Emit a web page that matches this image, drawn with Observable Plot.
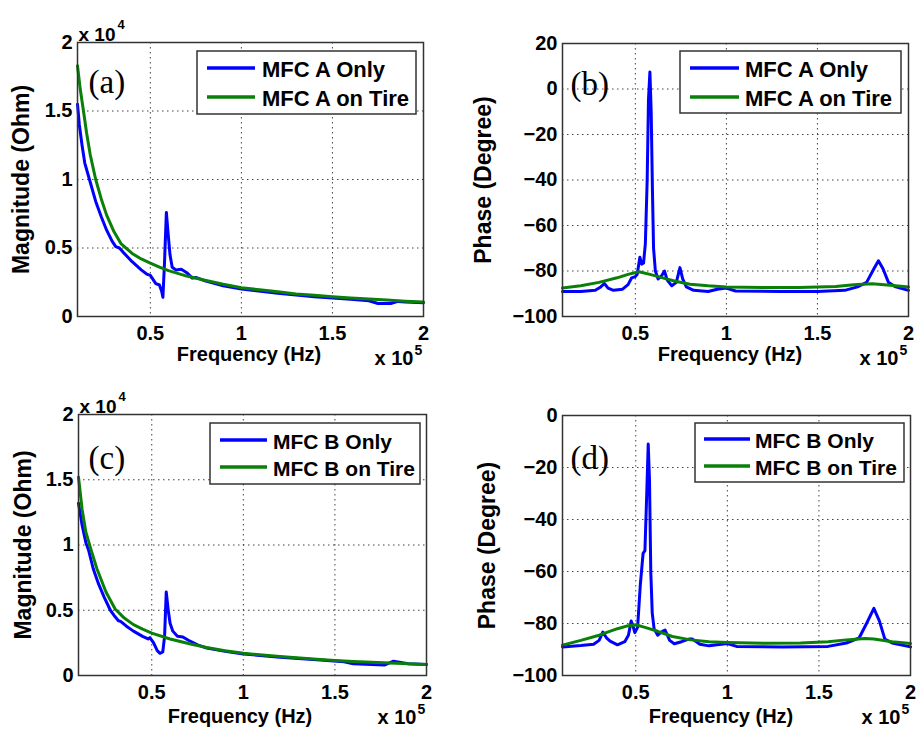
<!DOCTYPE html>
<html><head><meta charset="utf-8">
<script src="https://cdn.jsdelivr.net/npm/d3@7"></script>
<script src="https://cdn.jsdelivr.net/npm/@observablehq/plot@0.6"></script>
<style>
body{margin:0;background:#fff}
#chart{position:relative;width:917px;height:738px;background:#fff;overflow:hidden}
#chart svg{position:absolute;overflow:visible}
</style></head><body><div id="chart"></div>
<script>
// ---------- DATA (frequency in x10^5 Hz, magnitude in x10^4 Ohm, phase in degrees) ----------
const freqTicks = [0.5, 1, 1.5, 2];
const magTicks = [0, 0.5, 1, 1.5, 2];
const phaseTicksB = [-100, -80, -60, -40, -20, 0, 20];
const phaseTicksD = [-100, -80, -60, -40, -20, 0];

const seriesA = ["MFC A Only", "MFC A on Tire"];
const seriesB = ["MFC B Only", "MFC B on Tire"];
const panelTags = ["(a)", "(b)", "(c)", "(d)"];
const xLabel = "Frequency (Hz)";
const magLabel = "Magnitude (Ohm)";
const phaseLabel = "Phase (Degree)";

// (a) magnitude, MFC A
const fMagAOnly = [0.10,0.11,0.125,0.14,0.17,0.20,0.23,0.26,0.29,0.31,0.33,0.35,0.40,0.45,0.48,0.50,0.53,0.55,0.563,0.569,0.578,0.588,0.598,0.608,0.62,0.64,0.67,0.70,0.73,0.75,0.80,0.90,1.00,1.20,1.40,1.60,1.70,1.75,1.82,1.86,1.90,2.00];
const magAOnly  = [1.55,1.40,1.25,1.12,0.98,0.84,0.73,0.63,0.55,0.51,0.50,0.47,0.40,0.34,0.31,0.30,0.24,0.23,0.18,0.14,0.40,0.76,0.60,0.45,0.36,0.34,0.345,0.32,0.28,0.285,0.26,0.225,0.20,0.17,0.145,0.125,0.115,0.095,0.095,0.11,0.105,0.10];
const fMagATire = [0.10,0.115,0.135,0.15,0.17,0.20,0.23,0.26,0.30,0.34,0.40,0.45,0.50,0.55,0.60,0.70,0.80,0.90,1.00,1.10,1.20,1.30,1.40,1.50,1.60,1.70,1.80,1.90,2.00];
const magATire  = [1.83,1.66,1.48,1.34,1.18,1.00,0.86,0.74,0.62,0.53,0.46,0.42,0.39,0.36,0.335,0.295,0.265,0.235,0.21,0.195,0.18,0.165,0.155,0.145,0.135,0.127,0.12,0.112,0.105];

// (b) phase, MFC A
const fPhAOnly = [0.10,0.20,0.28,0.31,0.33,0.35,0.38,0.43,0.46,0.48,0.50,0.51,0.525,0.535,0.545,0.555,0.565,0.572,0.58,0.587,0.594,0.60,0.61,0.625,0.645,0.66,0.675,0.70,0.725,0.745,0.76,0.78,0.82,0.90,0.95,1.00,1.05,1.30,1.50,1.65,1.72,1.77,1.81,1.835,1.86,1.89,1.93,2.00];
const phAOnly  = [-89,-89,-88.5,-87,-85.5,-87.5,-88.5,-88,-86,-83,-82.5,-81.5,-74,-77,-76.5,-68,-40,-5,7.5,-10,-45,-70,-80,-83.5,-82,-80,-84,-86.5,-85,-78.5,-83.5,-87,-88.5,-89,-88,-87.5,-88.8,-89,-89,-88.5,-87,-85,-79,-75.5,-79,-85,-87,-88.5];
const fPhATire = [0.10,0.20,0.30,0.40,0.46,0.52,0.58,0.65,0.72,0.80,0.90,1.00,1.20,1.40,1.60,1.70,1.80,1.90,2.00];
const phATire  = [-87.5,-86.5,-85,-83,-81.5,-80.3,-81.5,-83,-84.5,-85.8,-86.5,-87,-87.3,-87.3,-86.8,-86,-85.6,-86.3,-87];

// (c) magnitude, MFC B
const fMagBOnly = [0.10,0.12,0.14,0.155,0.18,0.21,0.24,0.274,0.30,0.318,0.33,0.36,0.40,0.45,0.48,0.49,0.51,0.53,0.545,0.56,0.57,0.579,0.59,0.60,0.615,0.64,0.67,0.70,0.75,0.80,0.90,1.00,1.20,1.40,1.55,1.60,1.70,1.77,1.82,1.86,1.90,2.00];
const magBOnly  = [1.32,1.15,1.02,0.96,0.82,0.70,0.60,0.50,0.45,0.42,0.415,0.38,0.34,0.30,0.28,0.29,0.25,0.19,0.17,0.18,0.30,0.64,0.50,0.40,0.34,0.30,0.295,0.27,0.235,0.21,0.185,0.165,0.14,0.12,0.105,0.09,0.085,0.08,0.11,0.10,0.09,0.085];
const fMagBTire = [0.10,0.12,0.14,0.165,0.20,0.25,0.30,0.35,0.40,0.45,0.50,0.60,0.70,0.80,0.90,1.00,1.20,1.40,1.50,1.60,1.80,2.00];
const magBTire  = [1.52,1.27,1.10,0.98,0.82,0.64,0.51,0.44,0.39,0.355,0.325,0.28,0.245,0.215,0.19,0.17,0.145,0.125,0.115,0.108,0.095,0.085];

// (d) phase, MFC B
const fPhBOnly = [0.10,0.20,0.27,0.30,0.32,0.34,0.36,0.40,0.44,0.46,0.475,0.485,0.495,0.51,0.525,0.54,0.55,0.56,0.568,0.575,0.582,0.59,0.60,0.62,0.645,0.66,0.685,0.71,0.75,0.79,0.81,0.85,0.90,1.00,1.05,1.30,1.55,1.65,1.72,1.76,1.80,1.83,1.86,1.90,2.00];
const phBOnly  = [-89,-88.5,-88,-86.5,-83.3,-85.5,-86.8,-88.2,-87,-84.5,-79,-81,-83.5,-81.5,-65,-53,-52,-30,-11,-25,-60,-76,-82,-84.5,-83,-82.5,-86.5,-87.8,-87,-86,-86,-88,-88.6,-87.7,-88.8,-89,-88.8,-87.5,-85.5,-80,-74.2,-79,-86,-87.5,-89];
const fPhBTire = [0.10,0.20,0.30,0.40,0.45,0.50,0.55,0.62,0.70,0.80,0.90,1.00,1.20,1.40,1.55,1.65,1.75,1.80,1.90,2.00];
const phBTire  = [-88.3,-86.5,-84.5,-82,-81,-80.5,-81.5,-83,-85,-86.3,-87,-87.3,-87.6,-87.5,-87,-86.3,-85.8,-86,-87,-87.7];

// ---------- STYLE ----------
const FONT = "'Liberation Sans', Arial, Helvetica, sans-serif";
const SERIF = "'Liberation Serif', 'Times New Roman', serif";
const BLUE = "#0000ff", GREEN = "#0a800a";
const fmtNum = d => (d < 0 ? "\u2212" + Math.abs(d) : String(d));

const rows = (xs, ys) => xs.map((x, i) => ({x, y: ys[i]}));

const panels = [
  {tag: panelTags[0], pos: [0, 0, 458, 369], m: {l: 77, r: 35, t: 42, b: 53},
   yDomain: [0, 2], yTicks: magTicks, yLabel: magLabel, names: seriesA, expY: true,
   blue: rows(fMagAOnly, magAOnly), green: rows(fMagATire, magATire),
   tagDx: 11, tagDy: 27, xlDx: -1.5, xlDy: 44, ylDx: -56,
   lg: {w: 219, h: 63, dr: 7, dt: 9, l0: 10, l1: 58, y1: 17, y2: 46, tx: 65, fs: 22}},
  {tag: panelTags[1], pos: [458, 0, 459, 369], m: {l: 104, r: 9, t: 43, b: 53},
   yDomain: [-100, 20], yTicks: phaseTicksB, yLabel: phaseLabel, names: seriesA, expY: false,
   blue: rows(fPhAOnly, phAOnly), green: rows(fPhATire, phATire),
   tagDx: 8, tagDy: 28, xlDx: -5.5, xlDy: 44, ylDx: -79,
   lg: {w: 221, h: 62, dr: 7, dt: 8, l0: 10, l1: 59, y1: 17, y2: 46, tx: 65, fs: 22}},
  {tag: panelTags[2], pos: [0, 369, 458, 369], m: {l: 78, r: 32, t: 45, b: 63},
   yDomain: [0, 2], yTicks: magTicks, yLabel: magLabel, names: seriesB, expY: true,
   blue: rows(fMagBOnly, magBOnly), green: rows(fMagBTire, magBTire),
   tagDx: 10, tagDy: 31, xlDx: -12.5, xlDy: 47, ylDx: -55,
   lg: {w: 210, h: 61, dr: 6, dt: 9, l0: 10, l1: 57, y1: 17, y2: 44, tx: 63, fs: 21}},
  {tag: panelTags[3], pos: [458, 369, 459, 369], m: {l: 104, r: 7, t: 46, b: 63},
   yDomain: [-100, 0], yTicks: phaseTicksD, yLabel: phaseLabel, names: seriesB, expY: false,
   blue: rows(fPhBOnly, phBOnly), green: rows(fPhBTire, phBTire),
   tagDx: 8, tagDy: 30, xlDx: -15.5, xlDy: 47, ylDx: -75,
   lg: {w: 209, h: 59, dr: 6, dt: 8, l0: 9, l1: 55, y1: 16, y2: 43, tx: 60, fs: 21}}
];

const chart = document.getElementById("chart");
const gridStyle = {stroke: "#222", strokeOpacity: 0.85, strokeWidth: 1, strokeDasharray: "1.5,3.5"};

for (const p of panels) {
  const [left, top, w, h] = p.pos;
  const marks = [
    Plot.gridX(freqTicks, gridStyle),
    Plot.gridY(p.yTicks, gridStyle),
    Plot.line(p.blue, {x: "x", y: "y", stroke: BLUE, strokeWidth: 3}),
    Plot.line(p.green, {x: "x", y: "y", stroke: GREEN, strokeWidth: 3}),
    Plot.frame({stroke: "#333", strokeWidth: 1.5}),
    Plot.axisX(freqTicks, {tickSize: 0, tickPadding: 9, tickFormat: fmtNum, label: null}),
    Plot.axisY(p.yTicks, {tickSize: 0, tickPadding: 5, tickFormat: fmtNum, label: null}),
    Plot.text([xLabel], {frameAnchor: "bottom", textAnchor: "middle", dx: p.xlDx, dy: p.xlDy, fontSize: 20}),
    Plot.text([p.yLabel], {frameAnchor: "left", textAnchor: "middle", rotate: -90, dx: p.ylDx, fontSize: 23}),
    Plot.text([p.tag], {frameAnchor: "top-left", textAnchor: "start", dx: p.tagDx, dy: p.tagDy,
      fontSize: 33, fontFamily: SERIF, fontWeight: "normal"}),
    Plot.text(["x 10"], {frameAnchor: "bottom-right", textAnchor: "end", dx: -10, dy: 48.6, fontSize: 20}),
    Plot.text(["5"], {frameAnchor: "bottom-right", textAnchor: "start", dx: -9, dy: 38.5, fontSize: 14})
  ];
  if (p.expY) {
    marks.push(Plot.text(["x 10"], {frameAnchor: "top-left", textAnchor: "start", dx: 1, dy: -15, fontSize: 19}));
    marks.push(Plot.text(["4"], {frameAnchor: "top-left", textAnchor: "start", dx: 40, dy: -23, fontSize: 13}));
  }
  const svg = Plot.plot({
    width: w, height: h,
    marginLeft: p.m.l, marginRight: p.m.r, marginTop: p.m.t, marginBottom: p.m.b,
    x: {domain: [0.1, 2]},
    y: {domain: p.yDomain},
    style: {fontFamily: FONT, fontWeight: "bold", fontSize: "20px", color: "#000", background: "transparent", overflow: "visible"},
    marks
  });
  svg.style.left = left + "px";
  svg.style.top = top + "px";

  // legend box (MATLAB style)
  const R = w - p.m.r, T = p.m.t, lg = p.lg;
  const x0 = R - lg.dr - lg.w, y0 = T + lg.dt;
  const g = d3.select(svg).append("g");
  g.append("rect").attr("x", x0).attr("y", y0).attr("width", lg.w).attr("height", lg.h)
    .attr("fill", "#fff").attr("stroke", "#333").attr("stroke-width", 1.5);
  [[BLUE, lg.y1], [GREEN, lg.y2]].forEach(([c, dy], i) => {
    g.append("line").attr("x1", x0 + lg.l0).attr("x2", x0 + lg.l1)
      .attr("y1", y0 + dy).attr("y2", y0 + dy).attr("stroke", c).attr("stroke-width", 3.5);
    g.append("text").attr("x", x0 + lg.tx).attr("y", y0 + dy + 0.36 * lg.fs + 1)
      .attr("text-anchor", "start")
      .attr("font-family", FONT).attr("font-weight", "bold").attr("font-size", lg.fs)
      .attr("fill", "#000").text(p.names[i]);
  });
  chart.appendChild(svg);
}
</script></body></html>
